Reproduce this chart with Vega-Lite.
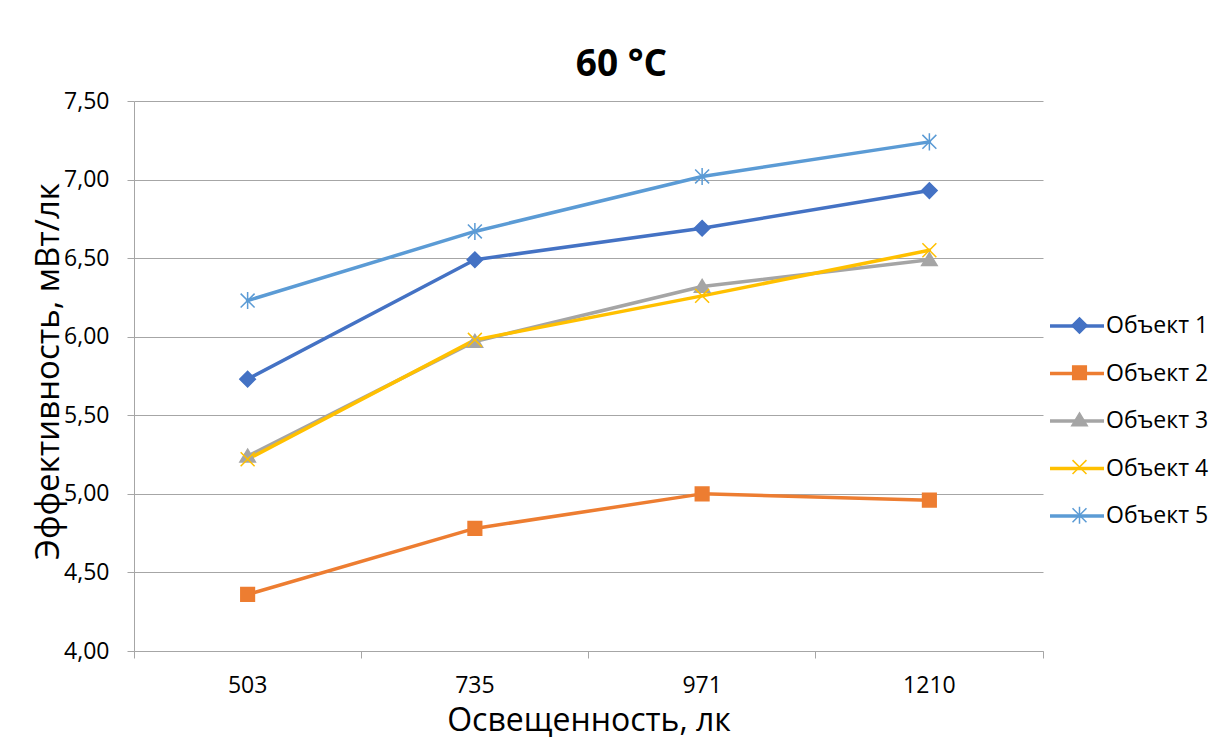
{
  "$schema": "https://vega.github.io/schema/vega-lite/v6.json",
  "width": 909,
  "height": 550,
  "autosize": "none",
  "padding": {"left": 134, "top": 101, "right": 181, "bottom": 89},
  "background": "white",
  "title": {
    "text": "60 °C",
    "font": "Open Sans",
    "fontSize": 37,
    "fontWeight": "bold",
    "color": "#000000",
    "anchor": "middle",
    "frame": "group",
    "dx": 33,
    "baseline": "alphabetic",
    "offset": -23
  },
  "config": {
    "view": {"stroke": null},
    "axis": {"labelFont": "Open Sans", "titleFont": "Open Sans"},
    "legend": {
      "title": null,
      "orient": "none",
      "padding": 0,
      "labelFont": "Open Sans",
      "labelFontSize": 23,
      "labelColor": "#000000",
      "symbolOpacity": 1
    }
  },
  "data": {
    "values": [
      {"lux": "503", "obj": "Объект 1", "eff": 5.73},
      {"lux": "735", "obj": "Объект 1", "eff": 6.49},
      {"lux": "971", "obj": "Объект 1", "eff": 6.69},
      {"lux": "1210", "obj": "Объект 1", "eff": 6.93},
      {"lux": "503", "obj": "Объект 2", "eff": 4.36},
      {"lux": "735", "obj": "Объект 2", "eff": 4.78},
      {"lux": "971", "obj": "Объект 2", "eff": 5.0},
      {"lux": "1210", "obj": "Объект 2", "eff": 4.96},
      {"lux": "503", "obj": "Объект 3", "eff": 5.24},
      {"lux": "735", "obj": "Объект 3", "eff": 5.97},
      {"lux": "971", "obj": "Объект 3", "eff": 6.32},
      {"lux": "1210", "obj": "Объект 3", "eff": 6.49},
      {"lux": "503", "obj": "Объект 4", "eff": 5.22},
      {"lux": "735", "obj": "Объект 4", "eff": 5.98},
      {"lux": "971", "obj": "Объект 4", "eff": 6.26},
      {"lux": "1210", "obj": "Объект 4", "eff": 6.55},
      {"lux": "503", "obj": "Объект 5", "eff": 6.23},
      {"lux": "735", "obj": "Объект 5", "eff": 6.67},
      {"lux": "971", "obj": "Объект 5", "eff": 7.02},
      {"lux": "1210", "obj": "Объект 5", "eff": 7.24}
    ]
  },
  "encoding": {
    "x": {
      "field": "lux",
      "type": "ordinal",
      "sort": ["503", "735", "971", "1210"],
      "bandPosition": 0.5,
      "scale": {"type": "band", "paddingInner": 0, "paddingOuter": 0},
      "axis": {
        "title": "Освещенность, лк",
        "titleFontSize": 32,
        "titleFontWeight": "normal",
        "titleColor": "#000000",
        "titleBaseline": "alphabetic",
        "titleY": 79,
        "labelFontSize": 23,
        "labelColor": "#000000",
        "labelAngle": 0,
        "labelPadding": 16,
        "labelBaseline": "top",
        "tickSize": 7,
        "tickColor": "#A6A6A6",
        "tickWidth": 1,
        "domainColor": "#A6A6A6",
        "domainWidth": 1,
        "grid": false,
        "bandPosition": 1,
        "tickExtra": true
      }
    },
    "y": {
      "field": "eff",
      "type": "quantitative",
      "scale": {"domain": [4, 7.5], "nice": false, "zero": false},
      "axis": {
        "title": "Эффективность, мВт/лк",
        "titleFontSize": 33,
        "titleFontWeight": "normal",
        "titleColor": "#000000",
        "titleAngle": -90,
        "titleX": -86,
        "titleY": 270,
        "titleAlign": "center",
        "titleBaseline": "middle",
        "values": [4, 4.5, 5, 5.5, 6, 6.5, 7, 7.5],
        "labelExpr": "replace(format(datum.value, '.2f'), '.', ',')",
        "labelFontSize": 23,
        "labelColor": "#000000",
        "labelPadding": 18,
        "tickSize": 7,
        "tickColor": "#A6A6A6",
        "domainColor": "#A6A6A6",
        "gridColor": "#A6A6A6",
        "grid": true
      }
    }
  },
  "layer": [
    {
      "mark": {"type": "line", "strokeWidth": 3.5, "strokeCap": "round", "strokeJoin": "round"},
      "encoding": {
        "color": {
          "field": "obj",
          "type": "nominal",
          "scale": {
            "domain": ["Объект 1", "Объект 2", "Объект 3", "Объект 4", "Объект 5"],
            "range": ["#4472C4", "#ED7D31", "#A5A5A5", "#FFC000", "#5B9BD5"]
          },
          "legend": {
            "legendX": 914,
            "legendY": 196,
            "rowPadding": 6.5,
            "symbolType": "stroke",
            "symbolSize": 2916,
            "symbolStrokeWidth": 3.5,
            "labelOffset": 0
          }
        }
      }
    },
    {
      "mark": {"type": "point", "filled": true, "size": 240, "strokeWidth": 1.5, "opacity": 1},
      "encoding": {
        "fill": {
          "field": "obj",
          "type": "nominal",
          "scale": {"range": ["#4472C4", "#ED7D31", "#A5A5A5", "#FFC000", "#5B9BD5"]},
          "legend": {"legendX": 934, "legendY": 213, "rowPadding": 23.2, "symbolSize": 240, "labelOffset": 18, "labelOpacity": 0, "labelExpr": "''"}
        },
        "stroke": {
          "field": "obj",
          "type": "nominal",
          "scale": {"range": ["#4472C4", "#ED7D31", "#A5A5A5", "#FFC000", "#5B9BD5"]},
          "legend": {"legendX": 934, "legendY": 213, "rowPadding": 23.2, "symbolSize": 240, "labelOffset": 18, "labelOpacity": 0, "labelExpr": "''"}
        },
        "shape": {
          "field": "obj",
          "type": "nominal",
          "scale": {
            "range": [
              "M-1,0L0,-1L1,0L0,1Z",
              "M-0.88,-0.88L0.88,-0.88L0.88,0.88L-0.88,0.88Z",
              "M0,-0.9L1,0.75L-1,0.75Z",
              "M-0.9,-0.9L0.9,0.9M-0.9,0.9L0.9,-0.9",
              "M-0.9,-0.9L0.9,0.9M-0.9,0.9L0.9,-0.9M0,-1.1L0,1.1"
            ]
          },
          "legend": {"legendX": 934, "legendY": 213, "rowPadding": 23.2, "symbolSize": 240, "labelOffset": 18, "labelOpacity": 0, "labelExpr": "''"}
        }
      }
    }
  ]
}
